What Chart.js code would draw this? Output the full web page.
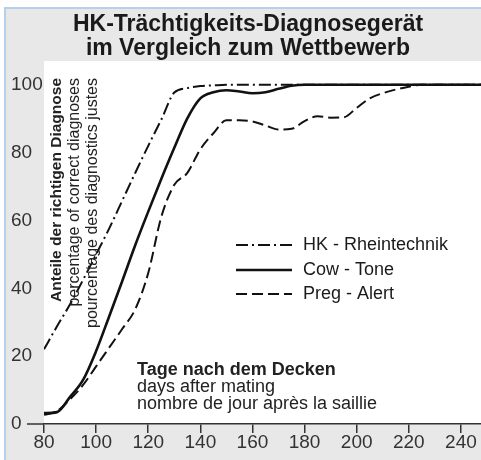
<!DOCTYPE html>
<html>
<head>
<meta charset="utf-8">
<script src="https://cdn.jsdelivr.net/npm/chart.js@4/dist/chart.umd.min.js"></script>
<style>
  html, body { margin: 0; padding: 0; background: #fff; }
</style>
</head>
<body>
<canvas id="myChart" width="481" height="460"></canvas>
<script>
// days after mating (x) and % correct diagnoses for each device
var days = [80,85,90,95,100,105,110,115,120,125,130,135,140,145,150,155,160,165,170,175,180,185,190,195,200,205,210,215,220,225,230,235,240,245,250];
var hkRheintechnik = [22,28.8,35.3,42.5,50,57.6,65.8,74,82,89.7,97.7,99,99.6,99.8,100,100,100,100,100,100,100,100,100,100,100,100,100,100,100,100,100,100,100,100,100];
var cowTone = [3.2,3.5,8,13,21.5,31.7,42.1,52.7,62.6,72.2,81.4,90.1,96,97.8,98.4,98,97.5,97.8,98.8,99.7,100,100,100,100,100,100,100,100,100,100,100,100,100,100,100];
var pregAlert = [2.7,3.8,7.3,11.5,17,22.5,28,33.8,44.5,61,70.5,74,81,85.7,89.5,89.5,89.2,88,86.8,87,89.3,90.7,90.3,90.4,93.2,96,97.5,98.6,99.4,100,100,100,100,100,100];
var seriesNames = ["HK - Rheintechnik", "Cow - Tone", "Preg - Alert"];
var xTicks = [80,100,120,140,160,180,200,220,240];
var yTicks = [0,20,40,60,80,100];

var FONT = "'Liberation Sans', Arial, Helvetica, sans-serif";

function pts(vals) {
  return days.map(function (d, i) { return {x: d, y: vals[i]}; });
}

var backdrop = {
  id: 'backdrop',
  beforeDraw: function (chart) {
    var ctx = chart.ctx, a = chart.chartArea;
    ctx.save();
    ctx.fillStyle = '#ffffff';
    ctx.fillRect(0, 0, chart.width, chart.height);
    ctx.fillStyle = '#e8e8e8';
    ctx.fillRect(5, 8, chart.width - 5, chart.height - 8);
    ctx.fillStyle = '#b3d0ec';
    ctx.fillRect(5, 7, chart.width - 5, 2);
    ctx.fillRect(4, 7, 2, chart.height - 7);
    ctx.fillStyle = '#ffffff';
    ctx.fillRect(a.left, a.top, a.right - a.left, a.bottom - a.top);
    ctx.restore();
  },
  afterDraw: function (chart) {
    var ctx = chart.ctx, a = chart.chartArea;
    ctx.save();
    // axis line runs a bit left of the plot
    ctx.strokeStyle = '#333';
    ctx.lineWidth = 1.5;
    ctx.beginPath();
    ctx.moveTo(27, a.bottom);
    ctx.lineTo(a.left, a.bottom);
    ctx.stroke();

    // title
    ctx.fillStyle = '#1a1a1a';
    ctx.textAlign = 'center';
    ctx.textBaseline = 'alphabetic';
    ctx.font = 'bold 23px ' + FONT;
    ctx.fillText('HK-Trächtigkeits-Diagnosegerät', 248, 31);
    ctx.fillText('im Vergleich zum Wettbewerb', 248, 55);

    // y axis caption, three languages
    var cap = [
      ['Anteile der richtigen Diagnose', 'bold 15.5px ', 57],
      ['percentage of correct diagnoses', '16px ', 75],
      ['pourcentage des diagnostics justes', '16px ', 93]
    ];
    cap.forEach(function (c) {
      ctx.save();
      ctx.translate(c[2], 78);
      ctx.rotate(-Math.PI / 2);
      ctx.textAlign = 'right';
      ctx.textBaseline = 'middle';
      ctx.font = c[1] + FONT;
      ctx.fillStyle = '#222';
      ctx.fillText(c[0], 0, 0);
      ctx.restore();
    });

    // x axis caption inside the plot
    ctx.textAlign = 'left';
    ctx.fillStyle = '#222';
    ctx.font = 'bold 18px ' + FONT;
    ctx.fillText('Tage nach dem Decken', 137, 375);
    ctx.font = '18px ' + FONT;
    ctx.fillText('days after mating', 137, 392);
    ctx.fillText('nombre de jour après la saillie', 137, 409);

    // legend
    var rows = [245, 270, 294];
    chart.data.datasets.forEach(function (ds, i) {
      ctx.strokeStyle = ds.borderColor;
      ctx.lineWidth = ds.borderWidth;
      ctx.setLineDash(ds.borderDash || []);
      ctx.beginPath();
      ctx.moveTo(236, rows[i]);
      ctx.lineTo(292, rows[i]);
      ctx.stroke();
      ctx.setLineDash([]);
      ctx.fillStyle = '#1a1a1a';
      ctx.font = '18px ' + FONT;
      ctx.textBaseline = 'middle';
      ctx.fillText(ds.label, 303, rows[i]);
    });
    ctx.restore();
  }
};

new Chart('myChart', {
  type: 'line',
  data: {
    datasets: [{
      label: seriesNames[0],
      data: pts(hkRheintechnik),
      borderColor: '#111',
      borderWidth: 2,
      borderDash: [12, 4, 2, 4]
    }, {
      label: seriesNames[1],
      data: pts(cowTone),
      borderColor: '#111',
      borderWidth: 2.6
    }, {
      label: seriesNames[2],
      data: pts(pregAlert),
      borderColor: '#111',
      borderWidth: 2,
      borderDash: [11, 5]
    }]
  },
  options: {
    responsive: false,
    animation: false,
    elements: {
      point: {radius: 0},
      line: {cubicInterpolationMode: 'monotone', fill: false}
    },
    layout: {padding: {top: 61, left: 11, right: 0, bottom: 0}},
    plugins: {
      legend: {display: false},
      title: {display: false},
      tooltip: {enabled: false}
    },
    scales: {
      x: {
        type: 'linear',
        min: 80,
        max: 247.7,
        afterBuildTicks: function (s) { s.ticks = xTicks.map(function (v) { return {value: v}; }); },
        afterFit: function (s) { s.height = 36; },
        grid: {drawOnChartArea: false, drawTicks: true, tickLength: 9, color: '#333', lineWidth: 1.5},
        border: {display: true, color: '#333', width: 1.5},
        ticks: {color: '#333', font: {size: 19, family: FONT}, padding: -2, maxRotation: 0, autoSkip: false}
      },
      y: {
        min: 0,
        max: 107,
        afterBuildTicks: function (s) { s.ticks = yTicks.map(function (v) { return {value: v}; }); },
        afterFit: function (s) { s.width = 33; },
        grid: {display: false},
        border: {display: false},
        ticks: {crossAlign: 'far', color: '#333', font: {size: 19, family: FONT}, padding: 0}
      }
    }
  },
  plugins: [backdrop]
});
</script>
</body>
</html>
